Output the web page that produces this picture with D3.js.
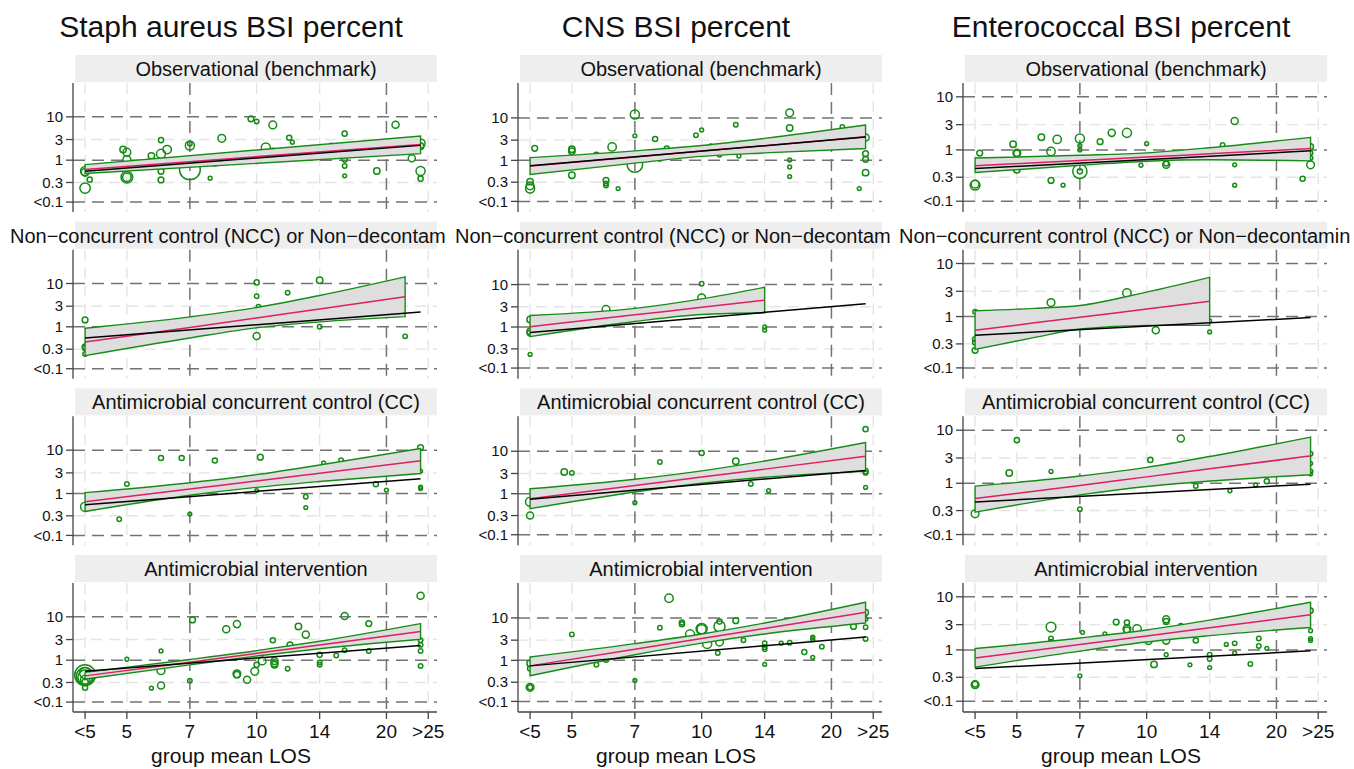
<!DOCTYPE html>
<html>
<head>
<meta charset="utf-8">
<script src="https://cdn.jsdelivr.net/npm/d3@7"></script>
<style>
  body { margin: 0; background: #fff; }
  text { font-family: "Liberation Sans", Arial, Helvetica, sans-serif; fill: #111; }
</style>
</head>
<body>
<div id="chart"></div>
<script>
// ---- data: [group mean LOS, BSI percent, weight] ----
const colTitles = ["Staph aureus BSI percent", "CNS BSI percent", "Enterococcal BSI percent"];
const rowTitles = ["Observational (benchmark)",
  "Non\u2212concurrent control (NCC) or Non\u2212decontamination",
  "Antimicrobial concurrent control (CC)",
  "Antimicrobial intervention"];
// the long strip title is cut at the panel edge in the original
const nccShown = ["Non\u2212concurrent control (NCC) or Non\u2212decontam",
  "Non\u2212concurrent control (NCC) or Non\u2212decontam",
  "Non\u2212concurrent control (NCC) or Non\u2212decontamin"];

const losTicks = [4, 5, 7, 10, 14, 20, 25];
const losLabels = ["<5", "5", "7", "10", "14", "20", ">25"];
const pctTicks = [0.1, 0.3, 1, 3, 10];
const pctLabels = ["<0.1", "0.3", "1", "3", "10"];
const darkLos = [7, 20];
const darkPct = [0.1, 1, 10];

// Staph aureus
const staph_obs = [[4,0.56,144],[4,0.52,100],[4.1,0.35,36],[4,0.22,196],[4.9,1.76,64],[5,1.53,100],[5,1.03,100],
  [5,0.4,256],[5,0.4,121],[5.7,1.26,64],[6,2.9,36],[6,1.4,144],[6.2,1.76,121],[6,0.55,49],[6,0.345,49],
  [7,2.18,144],[7,2.4,25],[7,0.61,900],[7.8,0.38,16],[8,0.9,100],[8.3,3.2,100],[9,1.33,25],[9.7,9,49],
  [10,7.8,25],[10.9,6.5,100],[10.5,1.96,144],[10.9,1.6,64],[11.9,3.3,36],[12.1,2.6,16],[14.9,2.2,25],
  [16,4.1,36],[16,1.03,36],[16,0.73,25],[16,0.43,16],[19,0.56,64],[21,6.6,81],[22.9,1.11,81],
  [24,2.42,144],[24,2.1,64],[24,0.56,144],[24,0.37,36]];
const staph_ncc = [[4,1.45,49],[4,0.34,49],[4,0.32,36],[4,0.23,25],[10,10.6,36],[10,5.1,25],[10.1,2.9,25],
  [10,0.61,81],[11.8,6.1,25],[14,11.9,64],[14,1,25],[22.1,0.6,25]];
const staph_cc = [[4,0.49,144],[4.8,0.25,25],[5,1.67,25],[6,6.6,36],[6.7,6.6,36],[7,0.33,16],[8,5.8,36],
  [10.2,6.9,49],[10,1.17,16],[13,0.84,25],[13,0.47,16],[14.3,5.1,16],[15.7,5.9,25],[18.9,1.64,36],
  [20,1.2,16],[24,11.5,49],[24,3.3,16],[24,1.4,16],[24,1.3,16]];
const staph_int = [[4,0.45,900],[4,0.42,625],[4,0.4,400],[4,0.5,225],[4,0.35,144],[4,0.3,64],[4,0.226,36],
  [5,1.05,16],[5.7,0.22,16],[6,1.64,16],[6,0.57,100],[6,0.255,81],[7,0.33,25],[7.1,8.5,49],[8.5,5.2,81],
  [9,6.8,81],[9,0.48,100],[9,0.46,64],[9.5,0.35,81],[9.9,0.55,100],[10.3,0.96,100],[10,0.78,36],
  [10.9,2.9,36],[11,0.96,81],[11,0.85,81],[11,0.78,64],[11.8,0.63,25],[11.95,2.26,49],[12.5,6,64],
  [13,3.9,81],[14,1.33,36],[14,0.88,25],[14,0.78,25],[15.3,1.28,25],[16,10.5,81],[16,1.7,25],
  [18.2,7,49],[18.2,1.64,25],[24,30.5,81],[24,2.9,25],[24,2.26,25],[24,1.64,25],[24,0.73,25]];

// CNS
const cns_obs = [[4,0.21,144],[4,0.245,100],[4,0.31,64],[4.1,1.93,49],[5,1.83,64],[5,1.64,64],[5,0.44,64],
  [5.7,1.36,36],[6,0.33,49],[6,0.28,25],[6,0.25,25],[6.2,2.08,121],[6.4,0.21,16],[7,12,144],[7,3.8,16],
  [7,0.8,484],[7.8,3.2,36],[8,1.1,36],[8.3,1.9,36],[9.7,3.9,25],[10,5.2,16],[10.5,2.2,16],[11,1.36,25],
  [12,6.9,25],[12.2,1.27,16],[16,13.2,100],[16,5.8,64],[16,1.02,16],[16,0.7,16],[16,0.41,16],
  [21.2,6.1,25],[23.2,0.21,16],[24,3.46,81],[24,1.44,49],[24,1.06,49],[24,0.51,64]];
const cns_ncc = [[4,1.5,64],[4,0.78,64],[4,0.72,49],[4,0.22,16],[6,2.6,100],[10,10.5,25],[10,4.9,100],
  [14,1,16],[14,0.84,16]];
const cns_cc = [[4,0.64,144],[4,0.3,81],[4.8,3.25,64],[5,3.1,25],[7,0.61,16],[8,5.6,25],[10,9.1,36],
  [12,5.8,64],[13,1.69,25],[14.3,1.18,16],[24,33,36],[24,3.4,36],[24,3.1,25],[24,1.41,16]];
const cns_int = [[4,0.84,64],[4,0.64,36],[4,0.225,100],[4,0.225,36],[5,4.1,25],[5.7,0.79,25],[6,1.04,36],
  [7,0.33,16],[8,5.9,25],[8.4,29,121],[9,7.8,36],[9,7.1,36],[9.4,4.1,144],[10,5.5,225],[10,5.4,144],
  [10.3,2.45,144],[11,8.2,36],[11,6.3,225],[11,2.7,100],[10.9,1.49,25],[12,8.6,49],[12.5,3,25],
  [14,2.55,25],[14,2.05,25],[14,1.84,25],[14,0.8,16],[15.3,2.55,16],[16,2.6,25],[17.3,1.57,36],
  [18.1,3.55,16],[18.1,3.4,16],[18.1,3.05,16],[18.1,1.18,16],[19,2.1,25],[22.5,6.3,49],
  [24,13.4,49],[24,9.5,25],[24,6,25],[24,3.2,25]];

// Enterococcal
const ent_obs = [[4,0.21,169],[4,0.22,100],[4.1,0.87,49],[4.9,1.28,64],[5,0.87,100],[5,0.86,64],[5,0.42,64],
  [5.7,1.73,64],[6,0.93,121],[6,0.26,49],[6.2,1.58,121],[6.4,0.21,16],[7,1.65,144],[7,1.2,16],[7,1,16],
  [7,0.39,400],[7,0.39,36],[7.8,1.43,49],[8.3,2.1,81],[9,2.1,144],[10,1.31,16],[9.7,0.51,16],
  [11.1,0.52,81],[11.1,0.55,36],[15,1.24,25],[16,3.5,81],[16,0.52,16],[16,0.21,16],[23,0.28,36],
  [24,1.15,49],[24,0.87,25],[24,0.7,25],[24,0.52,100]];
const ent_ncc = [[4,1.24,25],[4,0.37,36],[4,0.32,36],[4,0.225,49],[6,1.84,100],[9,2.8,121],[10.5,0.55,81],
  [14,0.83,16],[14,0.51,16]];
const ent_cc = [[4,0.26,100],[4.8,1.56,64],[5,6.5,36],[6,1.67,16],[7,0.32,25],[10.2,2.76,36],[12,7,81],
  [13,0.89,25],[15.6,0.72,16],[17.9,0.93,16],[19,1.09,36],[24,3.6,25],[24,2.36,16],[24,1.67,25],[24,1.5,16]];
const ent_int = [[4,0.215,100],[4,0.22,49],[6,2.7,169],[6,1.64,25],[6,1.43,25],[7,0.32,16],[7.1,2.15,16],
  [8,2,16],[8.5,3.35,49],[9,3.3,36],[9,2.5,100],[9,2.35,64],[9.5,2.48,121],[10.1,1.47,81],[10.4,0.53,64],
  [11.1,3.8,81],[11.1,3.45,49],[11.1,1.5,81],[11.1,0.81,16],[12,2.86,25],[12.6,0.52,16],[13,1.51,36],
  [14,0.81,25],[14,0.67,25],[14,0.46,16],[15.3,1.27,16],[16,1.33,25],[16,0.87,16],[17.4,0.54,25],
  [18.2,1.64,25],[18.2,1.19,25],[19,1.07,16],[24,5.5,36],[24,2.3,16],[24,1.64,16],[24,1.5,16]];

// fitted bands: [LOS, lower, fit, upper]
const staph_obs_band = [[4,0.49,0.61,0.79],[24,1.42,2.3,3.6]];
const staph_ncc_band = [[4,0.21,0.44,0.93],[7,0.55,0.97,1.7],[10,0.95,1.61,2.8],[14,1.3,2.6,5.3],[22.1,1.72,4.95,14.2]];
const staph_cc_band = [[4,0.38,0.64,1.05],[7,0.91,1.27,1.78],[10,1.39,1.95,2.73],[14,1.9,2.95,4.57],[24,2.9,5.7,10.9]];
const staph_int_band = [[4,0.36,0.43,0.52],[7,0.78,0.9,1.04],[10,1.25,1.44,1.66],[14,1.84,2.25,2.75],[24,3.05,4.6,7]];
const cns_obs_band = [[4,0.46,0.73,1.16],[7,0.86,1.2,1.68],[10,1.24,1.67,2.25],[14,1.5,2.22,3.3],[24,1.9,3.6,6.8]];
const cns_ncc_band = [[4,0.59,1.02,1.88],[7,1.35,1.94,2.75],[10,1.98,2.92,4.6],[14,2.17,4.3,8.66]];
const cns_cc_band = [[4,0.44,0.76,1.31],[7,1.1,1.56,2.2],[10,1.76,2.47,3.46],[14,2.45,3.8,5.9],[24,3.37,7.6,16]];
const cns_int_band = [[4,0.43,0.74,1.2],[7,1.36,1.84,2.48],[10,2.55,3.27,4.2],[14,4.2,5.66,7.6],[24,7.6,13.6,23.3]];
const ent_obs_band = [[4,0.37,0.5,0.7],[7,0.51,0.63,0.79],[10,0.61,0.73,0.88],[14,0.65,0.845,1.1],[24,0.62,1.06,1.73]];
const ent_ncc_band = [[4,0.235,0.55,1.29],[5.5,0.4,0.76,1.43],[7,0.58,0.97,1.62],[10,0.68,1.39,2.9],[14,0.68,1.95,5.5]];
const ent_cc_band = [[4,0.28,0.51,0.88],[7,0.6,0.91,1.37],[10,0.87,1.32,2],[14,1.1,1.87,3.2],[24,1.45,3.28,7.4]];
const ent_int_band = [[4,0.47,0.7,1.06],[7,0.95,1.26,1.68],[10,1.41,1.83,2.38],[14,1.86,2.61,3.65],[24,2.66,4.6,7.9]];

// benchmark (observational) line per outcome
const staph_bench = [[4,0.55],[24,2.2]];
const cns_bench = [[4,0.74],[24,3.55]];
const ent_bench = [[4,0.44],[24,0.96]];

// y ranges per outcome (percent + 0.01 offset)
const staph_yrange = [0.065, 60];
const cns_yrange = [0.062, 66];
const ent_yrange = [0.069, 18.2];

const columns = [
  { title: colTitles[0], yr: staph_yrange, bench: staph_bench,
    pts: [staph_obs, staph_ncc, staph_cc, staph_int], bands: [staph_obs_band, staph_ncc_band, staph_cc_band, staph_int_band] },
  { title: colTitles[1], yr: cns_yrange, bench: cns_bench,
    pts: [cns_obs, cns_ncc, cns_cc, cns_int], bands: [cns_obs_band, cns_ncc_band, cns_cc_band, cns_int_band] },
  { title: colTitles[2], yr: ent_yrange, bench: ent_bench,
    pts: [ent_obs, ent_ncc, ent_cc, ent_int], bands: [ent_obs_band, ent_ncc_band, ent_cc_band, ent_int_band] }
];

// ---- layout ----
const width = 1354, height = 769;
const colW = 445;
const plotL = 73, plotR = 437;
const rowStep = 166.67, plotTop0 = 83, plotH = 129;
const off = 0.01; // percent offset so "<0.1" sits at 0.11

const green = "#168c16", red = "#de1f60";

const svg = d3.select("#chart").append("svg")
  .attr("width", width).attr("height", height);

const x = d3.scaleLog().domain([3.75, 26.2]).range([plotL, plotR]);
const r = d3.scaleSqrt().domain([0, 900]).range([0.6, 10.4]);

columns.forEach((col, ci) => {
  const g = svg.append("g").attr("transform", `translate(${ci * colW},0)`);

  g.append("text")
    .attr("x", 231).attr("y", 37)
    .attr("text-anchor", "middle")
    .style("font-size", "30px")
    .text(col.title);

  const y = d3.scaleLog().domain(col.yr).range([plotH, 0]);
  const yv = v => y(v + off);

  rowTitles.forEach((rt, ri) => {
    const top = plotTop0 + ri * rowStep;
    const p = g.append("g").attr("transform", `translate(0,${top})`);

    // strip header
    g.append("rect")
      .attr("x", 75).attr("y", top - 28)
      .attr("width", plotR - 75).attr("height", 27)
      .attr("fill", "#eeeeee");
    const ht = g.append("text")
      .attr("y", top - 7)
      .style("font-size", "20px");
    if (ri === 1) {
      ht.attr("x", ci === 2 ? 9 : 10).attr("text-anchor", "start").text(nccShown[ci]);
    } else {
      ht.attr("x", (75 + plotR) / 2).attr("text-anchor", "middle").text(rt);
    }

    // light grid
    p.selectAll(".lh").data(pctTicks.filter(t => !darkPct.includes(t)))
      .enter().append("line")
      .attr("x1", plotL).attr("x2", plotR)
      .attr("y1", d => yv(d)).attr("y2", d => yv(d))
      .attr("stroke", "#e4e4e4").attr("stroke-width", 1.4).attr("stroke-dasharray", "11,7");
    p.selectAll(".lv").data(losTicks.filter(t => !darkLos.includes(t)))
      .enter().append("line")
      .attr("x1", d => x(d)).attr("x2", d => x(d))
      .attr("y1", 0).attr("y2", plotH)
      .attr("stroke", "#e4e4e4").attr("stroke-width", 1.4).attr("stroke-dasharray", "11,7");

    // dark dashed grid
    p.selectAll(".dh").data(darkPct)
      .enter().append("line")
      .attr("x1", plotL).attr("x2", plotR)
      .attr("y1", d => yv(d)).attr("y2", d => yv(d))
      .attr("stroke", "#737373").attr("stroke-width", 1.5).attr("stroke-dasharray", "12,7");
    p.selectAll(".dv").data(darkLos)
      .enter().append("line")
      .attr("x1", d => x(d)).attr("x2", d => x(d))
      .attr("y1", 0).attr("y2", plotH)
      .attr("stroke", "#737373").attr("stroke-width", 1.5).attr("stroke-dasharray", "12,7");

    // y axis
    p.append("line").attr("x1", plotL).attr("x2", plotL).attr("y1", 0).attr("y2", plotH)
      .attr("stroke", "#444").attr("stroke-width", 1.3);
    p.selectAll(".yt").data(pctTicks).enter().append("line")
      .attr("x1", plotL - 7).attr("x2", plotL)
      .attr("y1", d => yv(d)).attr("y2", d => yv(d))
      .attr("stroke", "#444").attr("stroke-width", 1.3);
    p.selectAll(".yl").data(pctTicks).enter().append("text")
      .attr("x", plotL - 10).attr("y", d => yv(d)).attr("dy", "0.35em")
      .attr("text-anchor", "end")
      .style("font-size", "15px")
      .text((d, i) => pctLabels[i]);

    // points
    p.selectAll(".pt").data(col.pts[ri]).enter().append("circle")
      .attr("cx", d => x(d[0])).attr("cy", d => yv(d[1]))
      .attr("r", d => r(d[2]))
      .attr("fill", "none").attr("stroke", green).attr("stroke-width", 1.5);

    // confidence band
    const band = col.bands[ri];
    const area = d3.area()
      .x(d => x(d[0])).y0(d => yv(d[1])).y1(d => yv(d[3]))
      .curve(d3.curveMonotoneX);
    p.append("path").datum(band)
      .attr("d", area)
      .attr("fill", "#dedede").attr("stroke", green).attr("stroke-width", 1.4);

    const fit = d3.line().x(d => x(d[0])).y(d => yv(d[2])).curve(d3.curveMonotoneX);
    p.append("path").datum(band).attr("d", fit)
      .attr("fill", "none").attr("stroke", red).attr("stroke-width", 1.5);

    const bl = d3.line().x(d => x(d[0])).y(d => yv(d[1]));
    p.append("path").datum(col.bench).attr("d", bl)
      .attr("fill", "none").attr("stroke", "#000").attr("stroke-width", 1.5);

    // x axis on the bottom row
    if (ri === rowTitles.length - 1) {
      p.append("line").attr("x1", plotL).attr("x2", plotR).attr("y1", plotH).attr("y2", plotH)
        .attr("stroke", "#444").attr("stroke-width", 1.3);
      p.selectAll(".xt").data(losTicks).enter().append("line")
        .attr("x1", d => x(d)).attr("x2", d => x(d))
        .attr("y1", plotH).attr("y2", plotH + 7)
        .attr("stroke", "#444").attr("stroke-width", 1.3);
      p.selectAll(".xl").data(losTicks).enter().append("text")
        .attr("x", d => x(d)).attr("y", plotH + 26)
        .attr("text-anchor", "middle")
        .style("font-size", "19px")
        .text((d, i) => losLabels[i]);
      p.append("text")
        .attr("x", 231).attr("y", plotH + 51)
        .attr("text-anchor", "middle")
        .style("font-size", "21px")
        .text("group mean LOS");
    }
  });
});
</script>
</body>
</html>
